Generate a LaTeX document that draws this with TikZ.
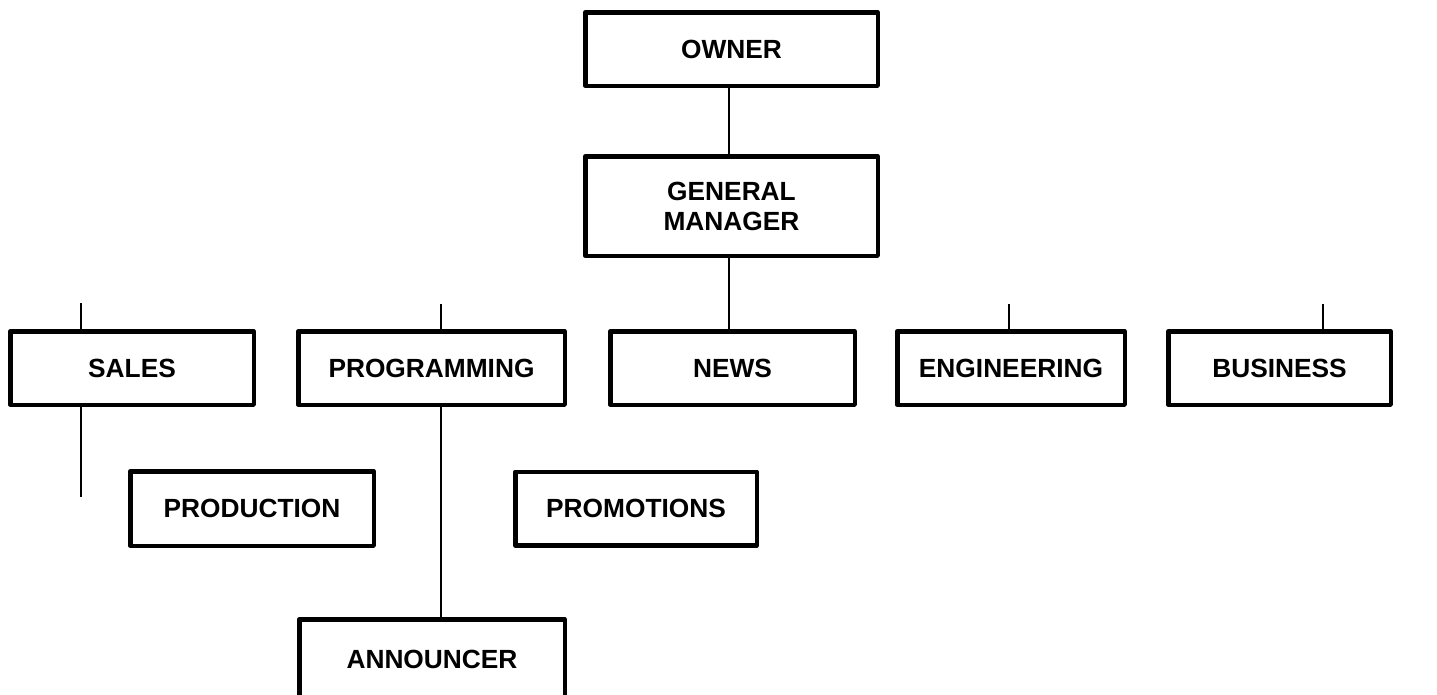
\documentclass[tikz,border=0pt]{standalone}
\usepackage{fontspec}
\setmainfont{Liberation Sans}
\usetikzlibrary{
  positioning
}
\tikzset{
  unit/.style={draw, line width=4.5pt, line join=round, align=center,
    inner sep=0pt, minimum height=73.5pt,
    font=\bfseries\fontsize{26.3}{30}\selectfont},
  link/.style={line width=1.3pt}
}

\begin{document}
\begin{tikzpicture}[x=1pt, y=-1pt]
    \useasboundingbox (0,0) rectangle (1437,694);
    \clip (0,0) rectangle (1437,694);
    \node[unit, minimum width=292.5pt] (owner) at (731.5,49) {OWNER};
    \node[unit, minimum width=292.5pt, minimum height=99.5pt] (gm) at (731.5,206) {GENERAL\\MANAGER};
    \node[unit, minimum width=243.5pt] (sales) at (132,368) {SALES};
    \node[unit, minimum width=266.5pt] (prog) at (431.5,368) {PROGRAMMING};
    \node[unit, minimum width=244.5pt] (news) at (732.5,368) {NEWS};
    \node[unit, minimum width=227.5pt] (eng) at (1011,368) {ENGINEERING};
    \node[unit, minimum width=222.5pt] (bus) at (1279.5,368) {BUSINESS};
    \node[unit, minimum width=243.5pt, minimum height=74.5pt] (prod) at (252,508.5) {PRODUCTION};
    \node[unit, minimum width=241.5pt] (promo) at (636,508.5) {PROMOTIONS};
    \node[unit, minimum width=265.5pt, minimum height=80pt] (ann) at (432,659.25) {ANNOUNCER};
    \coordinate (salesstub) at (81,303);
    \coordinate (salesend) at (81,497);
    \coordinate (progstub) at (441,304);
    \coordinate (engstub) at (1009,304);
    \coordinate (busstub) at (1323,304);
    \draw[link] (729,0 |- owner.south) -- (729,0 |- gm.north);
    \draw[link] (729,0 |- gm.south) -- (729,0 |- news.north);
    \draw[link] (salesstub) -- (salesstub |- sales.north);
    \draw[link] (salesend |- sales.south) -- (salesend);
    \draw[link] (progstub) -- (progstub |- prog.north);
    \draw[link] (progstub |- prog.south) -- (progstub |- ann.north);
    \draw[link] (engstub) -- (engstub |- eng.north);
    \draw[link] (busstub) -- (busstub |- bus.north);
  \end{tikzpicture}
\end{document}
